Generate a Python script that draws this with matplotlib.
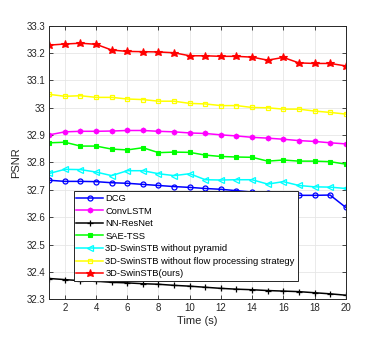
import matplotlib
matplotlib.use("Agg")
import matplotlib.pyplot as plt
from matplotlib.ticker import FuncFormatter

plt.rcParams['font.family'] = ['Liberation Sans', 'DejaVu Sans']

time = list(range(1, 21))

dcg = [32.735, 32.731, 32.731, 32.730, 32.726, 32.724, 32.720, 32.716, 32.712, 32.709,
       32.705, 32.702, 32.697, 32.692, 32.688, 32.684, 32.680, 32.680, 32.681, 32.636]
convlstm = [32.901, 32.912, 32.914, 32.914, 32.915, 32.917, 32.917, 32.914, 32.912, 32.908,
            32.906, 32.901, 32.897, 32.892, 32.889, 32.885, 32.880, 32.877, 32.872, 32.868]
nnresnet = [32.376, 32.372, 32.368, 32.366, 32.362, 32.360, 32.357, 32.355, 32.351, 32.348,
            32.344, 32.340, 32.337, 32.335, 32.332, 32.330, 32.328, 32.324, 32.320, 32.315]
saetss = [32.872, 32.874, 32.860, 32.860, 32.849, 32.846, 32.854, 32.836, 32.838, 32.837,
          32.827, 32.822, 32.820, 32.819, 32.805, 32.809, 32.805, 32.805, 32.803, 32.794]
no_pyramid = [32.760, 32.775, 32.774, 32.765, 32.752, 32.770, 32.770, 32.759, 32.752, 32.759,
              32.737, 32.736, 32.737, 32.737, 32.721, 32.730, 32.716, 32.711, 32.710, 32.705]
no_flow = [33.049, 33.042, 33.044, 33.038, 33.038, 33.032, 33.030, 33.024, 33.024, 33.016,
           33.014, 33.008, 33.008, 33.001, 33.000, 32.995, 32.995, 32.988, 32.983, 32.977]
ours = [33.229, 33.233, 33.236, 33.232, 33.211, 33.206, 33.205, 33.204, 33.201, 33.190,
        33.190, 33.188, 33.188, 33.185, 33.174, 33.184, 33.164, 33.162, 33.162, 33.153]

labels = ['DCG', 'ConvLSTM', 'NN-ResNet', 'SAE-TSS', '3D-SwinSTB without pyramid',
          '3D-SwinSTB without flow processing strategy', '3D-SwinSTB(ours)']

fig = plt.figure(figsize=(3.82, 3.38), dpi=100)
ax = fig.add_axes([0.129, 0.1145, 0.776, 0.8095])

lw = 1.1
ax.plot(time, dcg, color='#0000ff', marker='o', mfc='none', ms=3.6, mew=0.9, lw=lw, label=labels[0])
ax.plot(time, convlstm, color='#ff00ff', marker='h', mfc='#ff00ff', ms=3.6, mew=0.8, lw=lw, label=labels[1])
ax.plot(time, nnresnet, color='#000000', marker='+', ms=4.5, mew=0.9, lw=lw, label=labels[2])
ax.plot(time, saetss, color='#00ff00', marker='s', mfc='#00ff00', ms=2.2, mew=0.8, lw=lw, label=labels[3])
ax.plot(time, no_pyramid, color='#00ffff', marker='<', mfc='none', ms=4.5, mew=0.9, lw=lw, label=labels[4])
ax.plot(time, no_flow, color='#ffff00', marker='s', mfc='none', ms=3.5, mew=0.9, lw=lw, label=labels[5])
ax.plot(time, ours, color='#ff0000', marker='*', mfc='#ff0000', ms=6.2, mew=0.8, lw=lw, label=labels[6])

ax.set_xlim(1, 20)
ax.set_ylim(32.3, 33.3)
ax.set_xticks(range(2, 21, 2))
ax.set_yticks([32.3 + 0.1 * i for i in range(11)])
ax.yaxis.set_major_formatter(FuncFormatter(lambda v, p: '%g' % round(v, 1)))
ax.tick_params(direction='in', top=True, right=True, labelsize=7, length=3, width=0.6,
               colors='#262626', pad=3)
ax.grid(True, color='#e6e6e6', lw=0.6)
ax.set_axisbelow(True)
for s in ax.spines.values():
    s.set_linewidth(0.7)
    s.set_color('#262626')

ax.set_xlabel('Time (s)', fontsize=8, color='#262626', labelpad=2)
ax.set_ylabel('PSNR', fontsize=8, color='#262626', labelpad=4)

leg = ax.legend(loc='lower left', bbox_to_anchor=(0.082, 0.066), fontsize=6.75, frameon=True,
                fancybox=False, edgecolor='#262626', framealpha=1, handlelength=2.8,
                borderpad=0.3, labelspacing=0.38, handletextpad=0.3, borderaxespad=0)
leg.get_frame().set_linewidth(0.7)

fig.savefig('out.png', dpi=100)
